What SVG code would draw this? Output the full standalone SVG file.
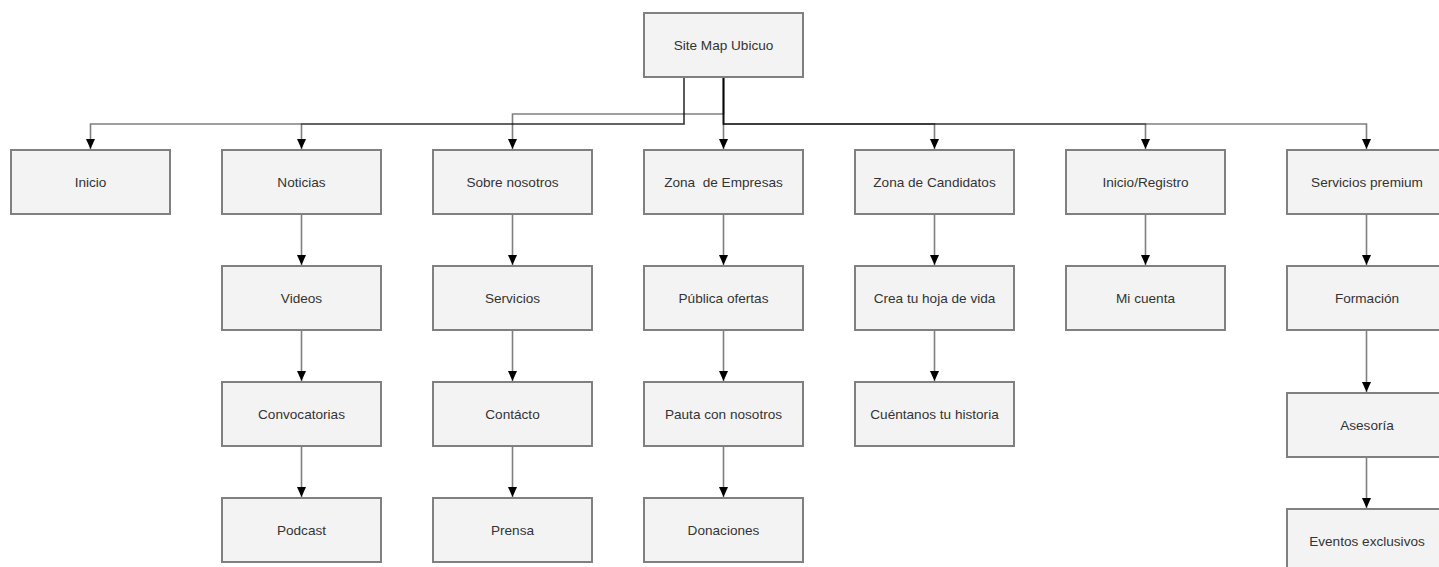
<svg xmlns="http://www.w3.org/2000/svg" width="1439" height="567" viewBox="0 0 1439 567">
<style>
.box{fill:#f3f3f3;stroke:#808080;stroke-width:2}
.lbl{font-family:"Liberation Sans",Arial,sans-serif;font-size:13.6px;fill:#333;text-anchor:middle;dominant-baseline:central;white-space:pre}
.c{fill:none;stroke:#000;stroke-opacity:0.5;stroke-width:1.6}
</style>
<defs>
<marker id="ah" markerUnits="userSpaceOnUse" markerWidth="12" markerHeight="12" viewBox="0 0 12 12" refX="11" refY="6" orient="auto">
<path d="M1,1.5 L11,6 L1,10.5 Z" fill="#000"/>
</marker>
</defs>
<rect width="1439" height="567" fill="#fff"/>
<g id="connectors">
<path class="c" d="M684,77 V124 H90.5 V149" marker-end="url(#ah)"/>
<path class="c" d="M684,77 V124 H301.5 V149" marker-end="url(#ah)"/>
<path class="c" d="M723.5,77 V114 H512.5 V149" marker-end="url(#ah)"/>
<path class="c" d="M723.5,77 V149" marker-end="url(#ah)"/>
<path class="c" d="M723.5,77 V124 H934.5 V149" marker-end="url(#ah)"/>
<path class="c" d="M723.5,77 V124 H1145.5 V149" marker-end="url(#ah)"/>
<path class="c" d="M723.5,77 V124 H1366.5 V149" marker-end="url(#ah)"/>
<path class="c" d="M301.5,214 V265" marker-end="url(#ah)"/>
<path class="c" d="M301.5,330 V381" marker-end="url(#ah)"/>
<path class="c" d="M301.5,446 V497" marker-end="url(#ah)"/>
<path class="c" d="M512.5,214 V265" marker-end="url(#ah)"/>
<path class="c" d="M512.5,330 V381" marker-end="url(#ah)"/>
<path class="c" d="M512.5,446 V497" marker-end="url(#ah)"/>
<path class="c" d="M723.5,214 V265" marker-end="url(#ah)"/>
<path class="c" d="M723.5,330 V381" marker-end="url(#ah)"/>
<path class="c" d="M723.5,446 V497" marker-end="url(#ah)"/>
<path class="c" d="M934.5,214 V265" marker-end="url(#ah)"/>
<path class="c" d="M934.5,330 V381" marker-end="url(#ah)"/>
<path class="c" d="M1145.5,214 V265" marker-end="url(#ah)"/>
<path class="c" d="M1366.5,214 V265" marker-end="url(#ah)"/>
<path class="c" d="M1366.5,330 V392" marker-end="url(#ah)"/>
<path class="c" d="M1366.5,457 V508" marker-end="url(#ah)"/>
</g>
<g id="root"><rect class="box" x="644" y="13" width="159" height="64"/><text class="lbl" x="723.5" y="45">Site Map Ubicuo</text></g>
<g id="inicio"><rect class="box" x="11" y="150" width="159" height="64"/><text class="lbl" x="90.5" y="182">Inicio</text></g>
<g id="noticias"><rect class="box" x="222" y="150" width="159" height="64"/><text class="lbl" x="301.5" y="182">Noticias</text></g>
<g id="sobre"><rect class="box" x="433" y="150" width="159" height="64"/><text class="lbl" x="512.5" y="182">Sobre nosotros</text></g>
<g id="empresas"><rect class="box" x="644" y="150" width="159" height="64"/><text class="lbl" x="723.5" y="182" xml:space="preserve">Zona  de Empresas</text></g>
<g id="candidatos"><rect class="box" x="855" y="150" width="159" height="64"/><text class="lbl" x="934.5" y="182">Zona de Candidatos</text></g>
<g id="registro"><rect class="box" x="1066" y="150" width="159" height="64"/><text class="lbl" x="1145.5" y="182">Inicio/Registro</text></g>
<g id="premium"><rect class="box" x="1287" y="150" width="160" height="64"/><text class="lbl" x="1367" y="182">Servicios premium</text></g>
<g id="videos"><rect class="box" x="222" y="266" width="159" height="64"/><text class="lbl" x="301.5" y="298">Videos</text></g>
<g id="convocatorias"><rect class="box" x="222" y="382" width="159" height="64"/><text class="lbl" x="301.5" y="414">Convocatorias</text></g>
<g id="podcast"><rect class="box" x="222" y="498" width="159" height="64"/><text class="lbl" x="301.5" y="530">Podcast</text></g>
<g id="servicios"><rect class="box" x="433" y="266" width="159" height="64"/><text class="lbl" x="512.5" y="298">Servicios</text></g>
<g id="contacto"><rect class="box" x="433" y="382" width="159" height="64"/><text class="lbl" x="512.5" y="414">Contácto</text></g>
<g id="prensa"><rect class="box" x="433" y="498" width="159" height="64"/><text class="lbl" x="512.5" y="530">Prensa</text></g>
<g id="publica"><rect class="box" x="644" y="266" width="159" height="64"/><text class="lbl" x="723.5" y="298">Pública ofertas</text></g>
<g id="pauta"><rect class="box" x="644" y="382" width="159" height="64"/><text class="lbl" x="723.5" y="414">Pauta con nosotros</text></g>
<g id="donaciones"><rect class="box" x="644" y="498" width="159" height="64"/><text class="lbl" x="723.5" y="530">Donaciones</text></g>
<g id="hoja"><rect class="box" x="855" y="266" width="159" height="64"/><text class="lbl" x="934.5" y="298">Crea tu hoja de vida</text></g>
<g id="historia"><rect class="box" x="855" y="382" width="159" height="64"/><text class="lbl" x="934.5" y="414">Cuéntanos tu historia</text></g>
<g id="cuenta"><rect class="box" x="1066" y="266" width="159" height="64"/><text class="lbl" x="1145.5" y="298">Mi cuenta</text></g>
<g id="formacion"><rect class="box" x="1287" y="266" width="160" height="64"/><text class="lbl" x="1367" y="298">Formación</text></g>
<g id="asesoria"><rect class="box" x="1287" y="393" width="160" height="64"/><text class="lbl" x="1367" y="425">Asesoría</text></g>
<g id="eventos"><rect class="box" x="1287" y="509" width="160" height="64"/><text class="lbl" x="1367" y="541">Eventos exclusivos</text></g>
</svg>
